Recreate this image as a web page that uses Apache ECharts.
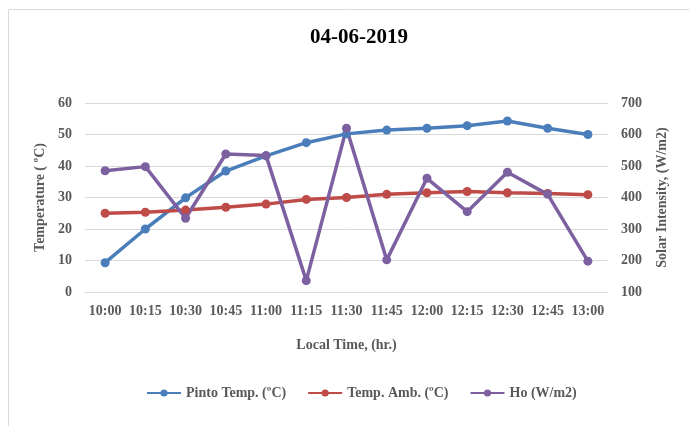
<!DOCTYPE html>
<html>
<head>
<meta charset="utf-8">
<script src="https://cdn.jsdelivr.net/npm/echarts@6/dist/echarts.min.js"></script>
<style>
  html, body { margin: 0; padding: 0; background: #fff; }
  #chart { width: 689px; height: 426px; }
</style>
</head>
<body>
<div id="chart"></div>
<script>
const times = ["10:00", "10:15", "10:30", "10:45", "11:00", "11:15", "11:30",
  "11:45", "12:00", "12:15", "12:30", "12:45", "13:00"];
const pintoTemp = [9.3, 20, 29.9, 38.4, 43.2, 47.4, 50.2, 51.4, 52, 52.8, 54.3, 52, 50];
const ambTemp = [25, 25.3, 26, 26.9, 27.9, 29.4, 30, 31, 31.5, 31.9, 31.5, 31.3, 30.9];
const ho = [485, 498, 334, 538, 533, 136, 620, 202, 461, 355, 480, 410, 198];
const tempTicks = [0, 60, 10];
const solarTicks = [100, 700, 100];

const serif = "'Liberation Serif', 'Times New Roman', serif";
const grey = "#595959";

let myEcharts = echarts.init(document.getElementById("chart"));

function lineSeries(name, color, data, axis) {
  return {
    name: name,
    type: "line",
    yAxisIndex: axis,
    symbol: "circle",
    symbolSize: 9,
    color: color,
    lineStyle: { width: 3.5 },
    data: data
  };
}

let option = {
  animation: false,
  graphic: [
    {
      type: "rect",
      shape: { x: 8.5, y: 9.5, width: 700, height: 440 },
      style: { fill: "none", stroke: "#d9d9d9", lineWidth: 1 },
      z: -1
    }
  ],
  title: {
    text: "04-06-2019",
    left: 305,
    top: 22,
    textStyle: { fontFamily: serif, fontWeight: "bold", fontSize: 21, color: "#000" }
  },
  legend: {
    bottom: 21,
    left: 141,
    itemWidth: 34,
    itemHeight: 9,
    itemGap: 21,
    textStyle: { fontFamily: serif, fontWeight: "bold", fontSize: 14, color: grey },
    data: ["Pinto Temp. (ºC)", "Temp. Amb. (ºC)", "Ho (W/m2)"]
  },
  grid: { left: 85, right: 81, top: 103, bottom: 134 },
  xAxis: {
    type: "category",
    data: times,
    name: "Local Time, (hr.)",
    nameLocation: "middle",
    nameGap: 46,
    nameTextStyle: { fontFamily: serif, fontWeight: "bold", fontSize: 14, color: grey },
    axisTick: { show: false },
    axisLine: { lineStyle: { color: "#d9d9d9", width: 1 } },
    axisLabel: { fontFamily: serif, fontWeight: "bold", fontSize: 14, color: grey, margin: 12, interval: 0 }
  },
  yAxis: [
    {
      type: "value",
      min: tempTicks[0],
      max: tempTicks[1],
      interval: tempTicks[2],
      name: "Temperature ( ºC)",
      nameLocation: "middle",
      nameGap: 32,
      nameTextStyle: { fontFamily: serif, fontWeight: "bold", fontSize: 14, color: grey },
      axisLine: { show: false },
      axisTick: { show: false },
      axisLabel: { fontFamily: serif, fontWeight: "bold", fontSize: 14, color: grey, margin: 13 },
      splitLine: { lineStyle: { color: "#d9d9d9", width: 1 } }
    },
    {
      type: "value",
      min: solarTicks[0],
      max: solarTicks[1],
      interval: solarTicks[2],
      name: "Solar Intensity, (W/m2)",
      nameLocation: "middle",
      nameGap: 47,
      nameTextStyle: { fontFamily: serif, fontWeight: "bold", fontSize: 14, color: grey },
      axisLine: { show: false },
      axisTick: { show: false },
      axisLabel: { fontFamily: serif, fontWeight: "bold", fontSize: 14, color: grey, margin: 13 },
      splitLine: { show: false }
    }
  ],
  series: [
    lineSeries("Pinto Temp. (ºC)", "#4a7ebb", pintoTemp, 0),
    lineSeries("Temp. Amb. (ºC)", "#be4b48", ambTemp, 0),
    lineSeries("Ho (W/m2)", "#7d60a0", ho, 1)
  ]
};

myEcharts.setOption(option);
</script>
</body>
</html>
